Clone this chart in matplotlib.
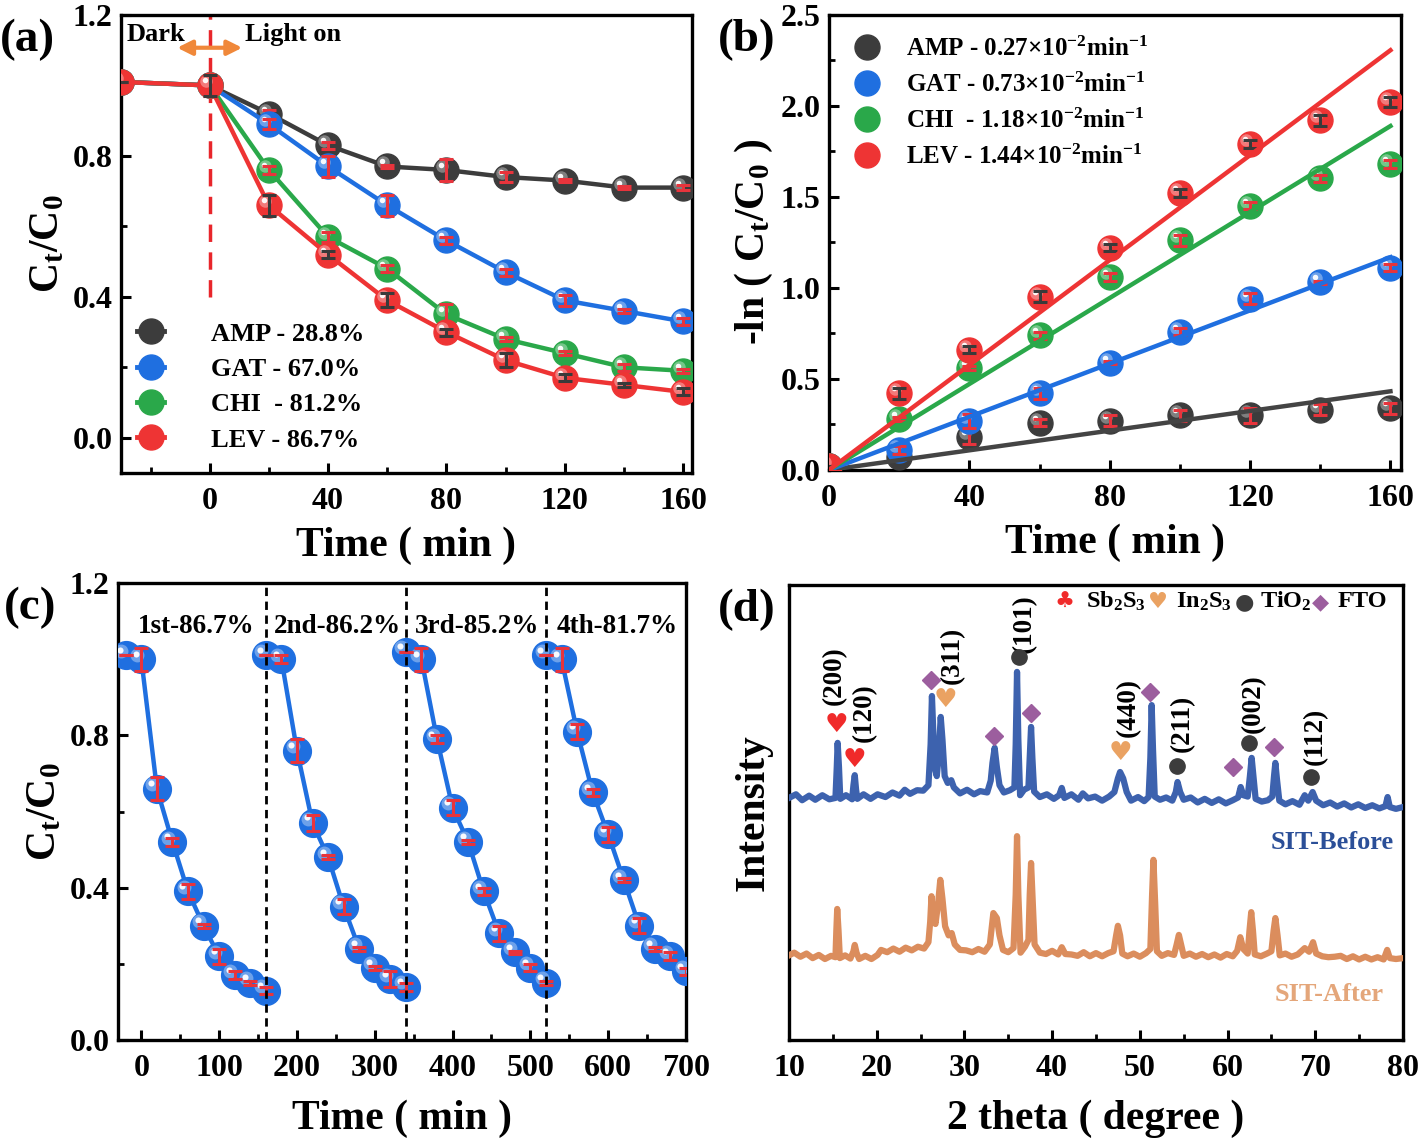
import matplotlib
matplotlib.use('Agg')
import matplotlib.pyplot as plt
from matplotlib.transforms import offset_copy
from matplotlib.legend_handler import HandlerTuple
from matplotlib.lines import Line2D
from matplotlib.ticker import MultipleLocator
import numpy as np

plt.rcParams.update({
    'font.family': ['Liberation Serif', 'DejaVu Sans'],
    'font.weight': 'bold',
    'mathtext.fontset': 'custom',
    'mathtext.rm': 'Liberation Serif:bold',
    'mathtext.it': 'Liberation Serif:bold:italic',
    'mathtext.bf': 'Liberation Serif:bold',
    'axes.linewidth': 2.4,
    'xtick.direction': 'in', 'ytick.direction': 'in',
    'xtick.major.width': 2.2, 'ytick.major.width': 2.2,
    'xtick.minor.width': 2.0, 'ytick.minor.width': 2.0,
    'xtick.major.size': 7, 'ytick.major.size': 7,
    'xtick.minor.size': 4, 'ytick.minor.size': 4,
    'xtick.labelsize': 23, 'ytick.labelsize': 23,
    'xtick.major.pad': 10, 'ytick.major.pad': 6,
    'axes.labelsize': 30, 'axes.labelweight': 'bold',
})

# ---------------- data ----------------
# (a) degradation curves
time_a = [-30, 0, 20, 40, 60, 80, 100, 120, 140, 160]
amp_a = [1.01, 1.00, 0.92, 0.83, 0.77, 0.76, 0.74, 0.73, 0.71, 0.71]
gat_a = [1.01, 1.00, 0.89, 0.77, 0.66, 0.56, 0.47, 0.39, 0.36, 0.33]
chi_a = [1.01, 1.00, 0.76, 0.57, 0.48, 0.35, 0.28, 0.24, 0.20, 0.19]
lev_a = [1.01, 1.00, 0.66, 0.52, 0.39, 0.30, 0.22, 0.17, 0.15, 0.13]
amp_a_err = [0, 0.03, 0.01, 0.01, 0.005, 0.03, 0.015, 0.005, 0.005, 0.008]
gat_a_err = [0, 0.02, 0.015, 0.03, 0.03, 0.01, 0.01, 0.015, 0.005, 0.01]
chi_a_err = [0, 0.02, 0.01, 0.015, 0.01, 0.03, 0.005, 0.005, 0.01, 0.005]
lev_a_err = [0, 0.03, 0.03, 0.01, 0.02, 0.01, 0.02, 0.01, 0.005, 0.01]
labels_a = ['AMP - 28.8%', 'GAT - 67.0%', 'CHI  - 81.2%', 'LEV - 86.7%']

# (b) kinetics
time_b = [0, 20, 40, 60, 80, 100, 120, 140, 160]
amp_b = [0.02, 0.07, 0.18, 0.26, 0.27, 0.30, 0.30, 0.33, 0.34]
gat_b = [0.02, 0.11, 0.27, 0.42, 0.59, 0.76, 0.94, 1.03, 1.11]
chi_b = [0.02, 0.28, 0.56, 0.74, 1.06, 1.26, 1.45, 1.60, 1.68]
lev_b = [0.02, 0.42, 0.66, 0.95, 1.22, 1.52, 1.79, 1.92, 2.02]
amp_b_err = [0, 0.01, 0.04, 0.02, 0.03, 0.03, 0.04, 0.03, 0.03]
gat_b_err = [0, 0.02, 0.04, 0.03, 0.01, 0.02, 0.03, 0.01, 0.02]
chi_b_err = [0, 0.01, 0.01, 0.02, 0.02, 0.03, 0.02, 0.02, 0.02]
lev_b_err = [0, 0.03, 0.02, 0.03, 0.02, 0.02, 0.02, 0.03, 0.03]
rate_k = [0.0027, 0.0073, 0.0118, 0.0144]
labels_b = ['AMP - 0.27×10$^{-2}$min$^{-1}$', 'GAT - 0.73×10$^{-2}$min$^{-1}$',
            'CHI  - 1.18×10$^{-2}$min$^{-1}$', 'LEV - 1.44×10$^{-2}$min$^{-1}$']

# (c) cycling
cycle_time = [-20, 0, 20, 40, 60, 80, 100, 120, 140, 160]
cycle_offset = [0, 180, 360, 540]
cycle1 = [1.01, 1.00, 0.66, 0.52, 0.39, 0.30, 0.22, 0.17, 0.15, 0.13]
cycle2 = [1.01, 1.00, 0.76, 0.57, 0.48, 0.35, 0.24, 0.19, 0.16, 0.14]
cycle3 = [1.02, 1.00, 0.79, 0.61, 0.52, 0.39, 0.28, 0.23, 0.19, 0.15]
cycle4 = [1.01, 1.00, 0.81, 0.65, 0.54, 0.42, 0.30, 0.24, 0.22, 0.18]
cycle1_err = [0, 0.03, 0.03, 0.01, 0.02, 0.005, 0.02, 0.01, 0.005, 0.01]
cycle2_err = [0, 0.01, 0.03, 0.02, 0.005, 0.02, 0.005, 0.005, 0.02, 0.01]
cycle3_err = [0, 0.03, 0.01, 0.02, 0.005, 0.01, 0.02, 0.005, 0.01, 0.005]
cycle4_err = [0, 0.03, 0.02, 0.01, 0.02, 0.005, 0.02, 0.005, 0.01, 0.01]
cycle_labels = ['1st-86.7%', '2nd-86.2%', '3rd-85.2%', '4th-81.7%']
cycle_label_x = [70, 252, 431, 611]
cycle_breaks = [160, 340, 520]

# (d) XRD patterns (2theta, intensity a.u.)
tt_before = [10.0, 10.8, 11.5, 12.3, 13.0, 13.8, 14.6, 15.3, 15.45, 15.55, 15.7, 15.85, 16.5, 17.2,
             17.35, 17.5, 17.65, 17.8, 18.5, 19.3, 20.1, 21.0, 21.8, 22.6, 23.2, 23.8, 24.6, 25.3,
             25.9, 26.15, 26.3, 26.45, 26.6, 26.85, 27.05, 27.3, 27.5, 27.75, 28.1, 28.5, 28.8,
             29.5, 30.3, 31.1, 31.8, 32.6, 33.0, 33.2, 33.45, 33.7, 34.0, 34.5, 35.2, 35.7, 35.85,
             36.0, 36.15, 36.35, 36.8, 37.3, 37.45, 37.6, 37.75, 37.95, 38.6, 39.4, 40.2, 40.8,
             41.1, 41.4, 42.2, 43.0, 43.5, 44.1, 44.9, 45.7, 46.5, 47.1, 47.5, 47.75, 48.1, 48.5,
             49.0, 49.8, 50.5, 51.0, 51.2, 51.35, 51.5, 51.7, 52.3, 53.0, 53.7, 54.1, 54.3, 54.6,
             55.0, 55.8, 56.6, 57.4, 58.2, 59.0, 59.8, 60.6, 61.2, 61.5, 61.8, 62.3, 62.55, 62.75,
             62.95, 63.2, 63.9, 64.6, 65.1, 65.3, 65.45, 65.65, 65.9, 66.6, 67.4, 68.2, 68.8, 69.2,
             69.7, 70.1, 70.9, 71.7, 72.5, 73.3, 74.1, 74.9, 75.7, 76.5, 77.3, 78.0, 78.25, 78.5,
             79.2, 80.0]
int_before = [53.2, 54.0, 52.7, 53.7, 52.8, 53.8, 52.9, 53.2, 60, 65.3, 60, 53.0, 53.8, 52.9,
              56, 58.2, 55, 53.0, 54.0, 53.0, 54.0, 53.4, 54.4, 53.7, 55.0, 54.1, 54.9, 54.8,
              56, 65, 75.6, 68, 60, 58, 62, 71.0, 66, 58, 56.5, 57.1, 55.5,
              54.2, 55.0, 54.0, 54.7, 54.4, 57, 60.9, 64.2, 60, 56, 54.4, 54.9, 55.5, 65,
              80.9, 66, 53.8, 55.0, 55.5, 62, 68.8, 62, 54.6, 53.4, 54.0, 53.0, 53.8,
              55.4, 53.2, 54.0, 52.8, 54.2, 53.1, 53.5, 52.6, 53.5, 54.5, 57.5, 58.9, 57.5, 54.5,
              52.6, 53.4, 52.5, 53.4, 62, 73.6, 64, 53.5, 52.8, 53.3, 52.6, 54.5, 56.7, 54.5,
              52.8, 53.3, 52.2, 53.0, 52.1, 52.9, 52.0, 52.7, 53.3, 55.6, 53.8, 53.5, 58, 62.0,
              58, 53.0, 52.4, 52.7, 53.5, 58, 60.9, 57, 52.6, 51.8, 52.5, 51.7, 53.8, 52.6,
              54.5, 52.6, 51.6, 52.2, 51.3, 52.0, 51.1, 51.8, 51.0, 51.6, 50.9, 51.4, 53.4, 51.2,
              50.8, 51.2]
tt_after = [10.0, 10.6, 11.3, 12.0, 12.7, 13.4, 14.1, 14.8, 15.3, 15.4, 15.5, 15.65, 15.8, 16.4,
            17.0, 17.35, 17.5, 17.7, 18.0, 18.7, 19.4, 20.1, 20.5, 21.2, 21.9, 22.6, 23.3, 24.0,
            24.7, 25.4, 25.9, 26.1, 26.25, 26.45, 26.7, 27.0, 27.25, 27.5, 27.8, 28.2, 28.55,
            28.9, 29.5, 30.2, 30.9, 31.6, 32.3, 32.9, 33.3, 33.7, 34.0, 34.4, 35.0, 35.6, 35.85,
            36.0, 36.15, 36.4, 36.9, 37.3, 37.45, 37.6, 37.8, 38.0, 38.6, 39.3, 40.0, 40.7, 41.1,
            41.5, 42.2, 42.9, 43.6, 44.3, 45.0, 45.7, 46.4, 47.0, 47.3, 47.5, 47.75, 48.0, 48.6,
            49.3, 50.0, 50.7, 51.2, 51.4, 51.55, 51.75, 51.95, 52.5, 53.2, 53.9, 54.2, 54.45,
            54.7, 55.0, 55.7, 56.4, 57.1, 57.8, 58.5, 59.2, 59.9, 60.6, 61.1, 61.45, 61.8, 62.3,
            62.5, 62.7, 62.9, 63.1, 63.8, 64.5, 65.0, 65.25, 65.45, 65.7, 65.95, 66.6, 67.3,
            68.0, 68.8, 69.3, 69.75, 70.1, 70.8, 71.5, 72.2, 72.9, 73.6, 74.3, 75.0, 75.7, 76.4,
            77.1, 77.8, 78.2, 78.5, 79.2, 80.0]
int_after = [18.6, 19.2, 18.3, 19.0, 18.0, 18.7, 17.8, 18.5, 18.2, 24, 28.8, 24, 18.0, 18.6,
             17.9, 19.5, 20.9, 19.2, 17.8, 18.5, 17.8, 18.7, 19.8, 19.3, 20.1, 19.4, 20.3, 19.7,
             20.5, 20.1, 21.5, 26, 31.6, 27, 25.5, 30, 35.2, 31, 25, 23, 23.5,
             21.0, 19.8, 19.7, 19.3, 20.0, 19.4, 21, 27.9, 26.8, 23, 19.8, 19.3, 20.2, 32,
             44.8, 32, 19.2, 20.5, 22, 32, 38.9, 30, 21, 19.2, 18.9, 19.6, 18.8, 20.4,
             18.9, 18.8, 18.5, 19.3, 18.4, 19.1, 18.4, 19.1, 19.5, 23, 25.1, 23, 19.0, 18.4,
             19.0, 18.3, 19.1, 20, 32, 39.6, 30, 19.5, 18.5, 19.1, 18.7, 21, 23.1,
             21, 18.5, 19.0, 18.3, 18.9, 18.2, 18.8, 18.1, 18.9, 18.4, 19.6, 22.6, 20.0, 19.0,
             24, 28.1, 24, 18.8, 18.4, 19.0, 19.5, 24, 26.8, 23, 18.6, 19.0, 18.3,
             18.8, 20.2, 19.4, 21.5, 19.0, 18.4, 18.2, 18.3, 18.5, 17.8, 18.4, 17.7, 18.3, 17.7,
             18.2, 17.7, 19.8, 18.0, 17.8, 18.0]

# phase markers in (d)
sb_x = [15.45, 17.45];      sb_y = [69.2, 61.5]
in_x = [27.85, 47.75];      in_y = [74.7, 63.1]
ti_x = [36.25, 54.2, 62.45, 69.5]; ti_y = [84.2, 60.2, 65.3, 57.8]
fto_x = [26.2, 33.4, 37.6, 51.2, 60.65, 65.35]; fto_y = [79.1, 66.8, 71.9, 76.5, 60.0, 64.4]
hkl_labels = ['(200)', '(120)', '(311)', '(101)', '(440)', '(211)', '(002)', '(112)']
hkl_x = [15.15, 18.6, 28.6, 36.8, 48.7, 54.9, 62.9, 70.0]
hkl_y = [80.0, 72.0, 84.5, 91.6, 73.0, 69.5, 74.0, 66.8]

# ---------------- styling ----------------
C_AMP, C_GAT, C_CHI, C_LEV = '#3c3c3c', '#1f6fe0', '#2aa84a', '#ee3434'
ERR_RED, ERR_DARK = '#e8343c', '#3a3a3a'

fig = plt.figure(figsize=(14.18, 11.43), dpi=100)
axA = fig.add_axes([0.0853, 0.5862, 0.4027, 0.4007])
axB = fig.add_axes([0.5846, 0.5888, 0.4034, 0.3985])
axC = fig.add_axes([0.0832, 0.0901, 0.4006, 0.3998])
axD = fig.add_axes([0.5564, 0.0901, 0.4330, 0.3981])


def sphere(ax, x, y, color, ms, z):
    ax.plot(x, y, 'o', ms=ms, color=color, mec=color, zorder=z)
    tr1 = offset_copy(ax.transData, fig=fig, x=-ms * 0.16, y=ms * 0.16, units='points')
    ax.plot(x, y, 'o', ms=ms * 0.5, color='white', alpha=0.35, mec='none', transform=tr1, zorder=z + 0.1)
    tr2 = offset_copy(ax.transData, fig=fig, x=-ms * 0.2, y=ms * 0.2, units='points')
    ax.plot(x, y, 'o', ms=ms * 0.22, color='white', alpha=0.95, mec='none', transform=tr2, zorder=z + 0.2)


def sphere_handle(color, ms, line=True):
    base = Line2D([], [], color=color, lw=3.5 if line else 0, marker='o', ms=ms, mec=color)
    hl = Line2D([], [], lw=0, marker='o', ms=ms * 0.3, color='white', mec='none', alpha=0.9)
    return (base, hl)


def style_axes(ax):
    ax.tick_params(which='both', top=False, right=False)
    for lab in ax.get_xticklabels() + ax.get_yticklabels():
        lab.set_fontweight('bold')

# ---------------- (a) ----------------
series_a = [(amp_a, amp_a_err, C_AMP, ERR_RED), (gat_a, gat_a_err, C_GAT, ERR_RED),
            (chi_a, chi_a_err, C_CHI, ERR_RED), (lev_a, lev_a_err, C_LEV, ERR_DARK)]
for i, (vals, err, col, ecol) in enumerate(series_a):
    z = 3 + i
    axA.plot(time_a, vals, '-', color=col, lw=3.2, zorder=z)
    sphere(axA, time_a, vals, col, 18, z)
    axA.errorbar(time_a, vals, yerr=err, fmt='none', ecolor=ecol, elinewidth=2.2,
                 capsize=5, capthick=2.2, zorder=z + 0.5)
axA.set_xlim(-30, 163)
axA.set_ylim(-0.1, 1.2)
ylo, yhi = axA.get_ylim()
axA.axvline(0, ymin=(0.4 - ylo) / (yhi - ylo), ymax=1, color='#e8262b', lw=2.5,
            ls=(0, (5, 3)), zorder=2)
axA.annotate('', xy=(-11, 1.107), xytext=(11, 1.107),
             arrowprops=dict(arrowstyle='<|-|>', color='#f0883a', lw=3, mutation_scale=22,
                             shrinkA=0, shrinkB=0), zorder=10)
axA.text(-28, 1.145, 'Dark', fontsize=19, fontweight='bold', va='center', ha='left')
axA.text(12, 1.145, 'Light on', fontsize=19, fontweight='bold', va='center', ha='left')
axA.set_xticks([0, 40, 80, 120, 160])
axA.xaxis.set_minor_locator(MultipleLocator(20))
axA.set_yticks([0.0, 0.4, 0.8, 1.2])
axA.yaxis.set_minor_locator(MultipleLocator(0.2))
axA.set_yticklabels(['0.0', '0.4', '0.8', '1.2'])
axA.set_xlabel('Time ( min )', labelpad=8)
axA.set_ylabel('C$_{\\rm t}$/C$_{\\rm 0}$', labelpad=4)
handles_a = [sphere_handle(c, 18) for c in (C_AMP, C_GAT, C_CHI, C_LEV)]
axA.legend(handles_a, labels_a, handler_map={tuple: HandlerTuple(ndivide=None)},
           loc='lower left', bbox_to_anchor=(0.0, 0.012), frameon=False,
           prop={'size': 19, 'weight': 'bold'}, handlelength=2.5, labelspacing=0.45,
           handletextpad=0.3, borderaxespad=0.2)
style_axes(axA)

# ---------------- (b) ----------------
series_b = [(amp_b, amp_b_err, C_AMP, ERR_RED), (gat_b, gat_b_err, C_GAT, ERR_RED),
            (chi_b, chi_b_err, C_CHI, ERR_RED), (lev_b, lev_b_err, C_LEV, ERR_DARK)]
t_fit = np.array([0, 160])
for i, ((vals, err, col, ecol), k) in enumerate(zip(series_b, rate_k)):
    z = 3 + i
    sphere(axB, time_b, vals, col, 18, z)
    axB.errorbar(time_b, vals, yerr=err, fmt='none', ecolor=ecol, elinewidth=2.2,
                 capsize=5, capthick=2.2, zorder=z + 0.5)
    fit_col = '#444444' if col == C_AMP else col
    axB.plot(t_fit, k * t_fit, '-', color=fit_col, lw=3.2, zorder=8)
axB.set_xlim(0, 163)
axB.set_ylim(0, 2.5)
axB.set_xticks([0, 40, 80, 120, 160])
axB.xaxis.set_minor_locator(MultipleLocator(20))
axB.set_yticks([0.0, 0.5, 1.0, 1.5, 2.0, 2.5])
axB.yaxis.set_minor_locator(MultipleLocator(0.25))
axB.set_xlabel('Time ( min )', labelpad=8)
axB.set_ylabel('-ln ( C$_{\\rm t}$/C$_{\\rm 0}$ )', labelpad=4)
handles_b = [sphere_handle(c, 18, line=False) for c in (C_AMP, C_GAT, C_CHI, C_LEV)]
axB.legend(handles_b, labels_b, handler_map={tuple: HandlerTuple(ndivide=None)},
           loc='upper left', bbox_to_anchor=(0.028, 0.99), frameon=False,
           prop={'size': 18, 'weight': 'bold'}, handlelength=1.2, labelspacing=0.47,
           handletextpad=0.55, borderaxespad=0.3)
style_axes(axB)

# ---------------- (c) ----------------
cycles = [cycle1, cycle2, cycle3, cycle4]
cycle_errs = [cycle1_err, cycle2_err, cycle3_err, cycle4_err]
for vals, err, off in zip(cycles, cycle_errs, cycle_offset):
    xs = [t + off for t in cycle_time]
    axC.plot(xs, vals, '-', color=C_GAT, lw=3.2, zorder=3)
    sphere(axC, xs, vals, C_GAT, 20, 4)
    axC.errorbar(xs, vals, yerr=err, fmt='none', ecolor=ERR_RED, elinewidth=2.2,
                 capsize=5, capthick=2.2, zorder=5)
for xb in cycle_breaks:
    axC.axvline(xb, color='black', lw=2, ls=(0, (3, 2)), zorder=6)
for lab, lx in zip(cycle_labels, cycle_label_x):
    axC.text(lx, 1.085, lab, fontsize=19.5, fontweight='bold', ha='center', va='center')
axC.set_xlim(-30, 700)
axC.set_ylim(0, 1.2)
axC.set_xticks(range(0, 701, 100))
axC.xaxis.set_minor_locator(MultipleLocator(50))
axC.set_yticks([0.0, 0.4, 0.8, 1.2])
axC.yaxis.set_minor_locator(MultipleLocator(0.2))
axC.set_yticklabels(['0.0', '0.4', '0.8', '1.2'])
axC.set_xlabel('Time ( min )', labelpad=12)
axC.set_ylabel('C$_{\\rm t}$/C$_{\\rm 0}$', labelpad=4)
style_axes(axC)

# ---------------- (d) ----------------
axD.plot(tt_before, int_before, '-', color='#3d62ae', lw=4.5, zorder=3, solid_joinstyle='round')
axD.plot(tt_after, int_after, '-', color='#db8d5d', lw=4.5, zorder=3, solid_joinstyle='round')
for x, y in zip(sb_x, sb_y):
    axD.text(x, y, '\u2665', color='#f02a2a', fontsize=19, ha='center', va='center',
             family='DejaVu Sans', zorder=5)
for x, y in zip(in_x, in_y):
    axD.text(x, y, '\u2665', color='#eaa262', fontsize=19, ha='center', va='center',
             family='DejaVu Sans', zorder=5)
axD.plot(ti_x, ti_y, 'o', ms=11, color='#3c3c3c', zorder=5)
axD.plot(fto_x, fto_y, 'D', ms=9.5, color='#9c5e9e', zorder=5)
for lab, x, y in zip(hkl_labels, hkl_x, hkl_y):
    axD.text(x, y, lab, rotation=90, fontsize=19.5, fontweight='bold', ha='center', va='center')
axD.text(78.9, 43.3, 'SIT-Before', color='#2b4f98', fontsize=19, fontweight='bold',
         ha='right', va='center')
axD.text(77.8, 9.9, 'SIT-After', color='#e4a67a', fontsize=19, fontweight='bold',
         ha='right', va='center')
# phase legend
leg_items = [(0.4495, '\u2663', '#f02a2a'), (0.601, '\u2665', '#eaa262'),
             (0.7424, '\u25cf', '#3c3c3c'), (0.8652, '\u25c6', '#9c5e9e')]
leg_texts = [(0.4833, 'Sb$_{\\rm 2}$S$_{\\rm 3}$'), (0.6307, 'In$_{\\rm 2}$S$_{\\rm 3}$'),
             (0.7678, 'TiO$_{\\rm 2}$'), (0.894, 'FTO')]
for xf, sym, col in leg_items:
    axD.text(xf, 0.963, sym, color=col, fontsize=16, ha='center', va='center',
             family='DejaVu Sans', transform=axD.transAxes)
for xf, txt in leg_texts:
    axD.text(xf, 0.963, txt, fontsize=17.5, fontweight='bold', ha='left', va='center',
             transform=axD.transAxes)
axD.set_xlim(10, 80)
axD.set_ylim(0, 100)
axD.set_xticks(range(10, 81, 10))
axD.xaxis.set_minor_locator(MultipleLocator(5))
axD.set_yticks([])
axD.set_xlabel('2 theta ( degree )', labelpad=12)
axD.set_ylabel('Intensity', labelpad=12)
style_axes(axD)

# panel letters
for txt, xf, yf in [('(a)', 0.0, 0.965), ('(b)', 0.506, 0.965), ('(c)', 0.003, 0.468), ('(d)', 0.506, 0.466)]:
    fig.text(xf, yf, txt, fontsize=34, fontweight='bold', ha='left', va='center')

fig.savefig('out.png', dpi=100)
